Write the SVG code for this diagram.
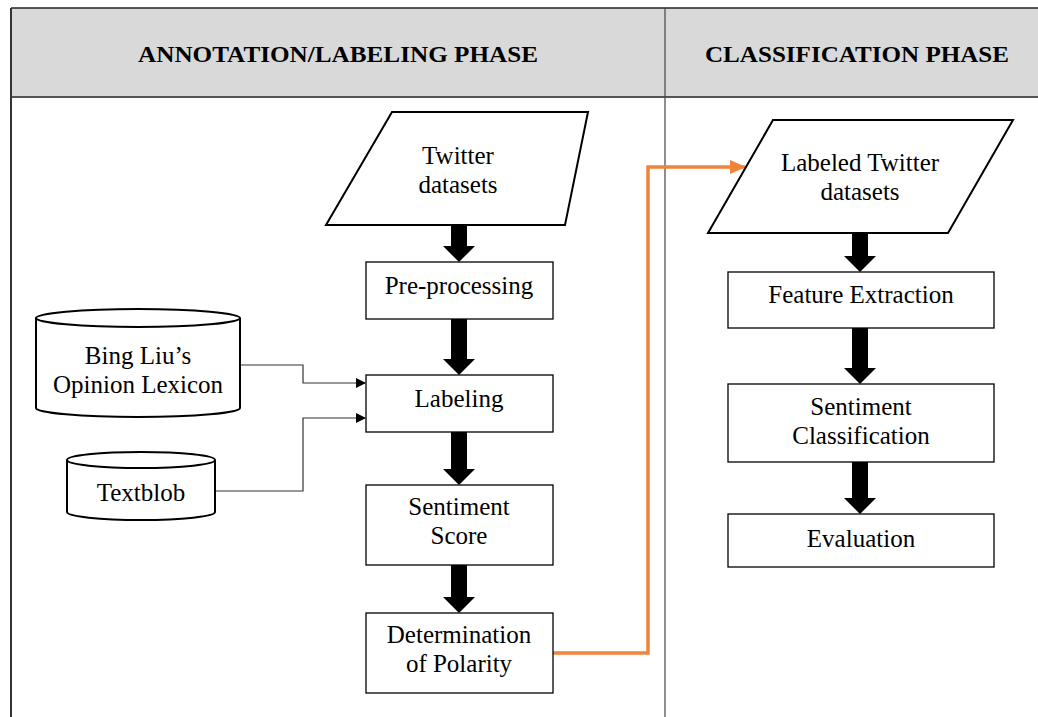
<svg xmlns="http://www.w3.org/2000/svg" width="1038" height="717" viewBox="0 0 1038 717">
<style>
.t{font-family:"Liberation Serif","Times New Roman",serif;font-size:25px;fill:#000;text-anchor:middle}
.h{font-family:"Liberation Serif","Times New Roman",serif;font-size:23px;font-weight:bold;fill:#000;text-anchor:middle}
.box{fill:#fff;stroke:#000;stroke-width:1.3}
.shape{fill:#fff;stroke:#000;stroke-width:2}
.thin{fill:none;stroke:#333;stroke-width:1.2}
.orange{fill:none;stroke:#F0843C;stroke-width:3.5}
.blk{fill:#000}
</style>
<defs>
<marker id="ah" markerWidth="10" markerHeight="10" refX="9" refY="5" orient="auto" markerUnits="userSpaceOnUse">
<path d="M0,0 L10,5 L0,10 Z" fill="#000"/>
</marker>
<marker id="ao" markerWidth="16" markerHeight="14" refX="15" refY="7" orient="auto" markerUnits="userSpaceOnUse">
<path d="M0,0 L16,7 L0,14 Z" fill="#F0843C"/>
</marker>
</defs>
<rect width="1038" height="717" fill="#fff"/>
<g id="table">
<rect x="11" y="8" width="1040" height="89" fill="#d9d9d9"/>
<line x1="11" y1="8" x2="1038" y2="8" stroke="#222" stroke-width="1.5"/>
<line x1="11" y1="97" x2="1038" y2="97" stroke="#555" stroke-width="2"/>
<line x1="11" y1="8" x2="11" y2="717" stroke="#333" stroke-width="2"/>
<line x1="665" y1="8" x2="665" y2="717" stroke="#444" stroke-width="1.2"/>
<text class="h" x="338" y="62" textLength="400" lengthAdjust="spacingAndGlyphs">ANNOTATION/LABELING PHASE</text>
<text class="h" x="857" y="62" textLength="304" lengthAdjust="spacingAndGlyphs">CLASSIFICATION PHASE</text>
</g>
<g id="connectors">
<path class="blk" d="M451,226 H467 V246 H475 L459,262 L443,246 H451 Z"/>
<path class="blk" d="M451,319 H467 V359 H475 L459,375 L443,359 H451 Z"/>
<path class="blk" d="M451,432 H467 V469 H475 L459,485 L443,469 H451 Z"/>
<path class="blk" d="M451,565 H467 V597 H475 L459,613 L443,597 H451 Z"/>
<path class="blk" d="M852,233 H868 V256 H876 L860,272 L844,256 H852 Z"/>
<path class="blk" d="M852,328 H868 V368 H876 L860,384 L844,368 H852 Z"/>
<path class="blk" d="M852,462 H868 V498 H876 L860,514 L844,498 H852 Z"/>
<path class="thin" d="M240,365 H303 V383 H365" marker-end="url(#ah)"/>
<path class="thin" d="M215,491 H303 V418 H365" marker-end="url(#ah)"/>
<path class="orange" d="M553,653 H648 V167 H745" marker-end="url(#ao)"/>
</g>
<g id="twitter-datasets">
<path class="shape" d="M392,112 L588,112 L565,225 L326,225 Z"/>
<text class="t" x="458" y="164">Twitter</text>
<text class="t" x="458" y="193">datasets</text>
</g>
<g id="pre-processing">
<rect class="box" x="366" y="262" width="187" height="57"/>
<text class="t" x="459" y="294">Pre-processing</text>
</g>
<g id="labeling">
<rect class="box" x="366" y="375" width="187" height="57"/>
<text class="t" x="459" y="407">Labeling</text>
</g>
<g id="sentiment-score">
<rect class="box" x="366" y="485" width="187" height="80"/>
<text class="t" x="459" y="515">Sentiment</text>
<text class="t" x="459" y="544">Score</text>
</g>
<g id="determination-of-polarity">
<rect class="box" x="366" y="613" width="187" height="80"/>
<text class="t" x="459" y="643">Determination</text>
<text class="t" x="459" y="672">of Polarity</text>
</g>
<g id="bing-liu">
<path class="shape" d="M36,318 A102,9 0 0 1 240,318 V408 A102,9 0 0 1 36,408 Z"/>
<path class="shape" d="M36,318 A102,9 0 0 0 240,318" fill="none"/>
<text class="t" x="138" y="364">Bing Liu’s</text>
<text class="t" x="138" y="393">Opinion Lexicon</text>
</g>
<g id="textblob">
<path class="shape" d="M67,460 A74,8 0 0 1 215,460 V512 A74,8 0 0 1 67,512 Z"/>
<path class="shape" d="M67,460 A74,8 0 0 0 215,460" fill="none"/>
<text class="t" x="141" y="501">Textblob</text>
</g>
<g id="labeled-twitter-datasets">
<path class="shape" d="M773,120 L1013,120 L948,233 L708,233 Z"/>
<text class="t" x="860" y="171">Labeled Twitter</text>
<text class="t" x="860" y="200">datasets</text>
</g>
<g id="feature-extraction">
<rect class="box" x="728" y="272" width="266" height="56"/>
<text class="t" x="861" y="303">Feature Extraction</text>
</g>
<g id="sentiment-classification">
<rect class="box" x="728" y="384" width="266" height="78"/>
<text class="t" x="861" y="415">Sentiment</text>
<text class="t" x="861" y="444">Classification</text>
</g>
<g id="evaluation">
<rect class="box" x="728" y="514" width="266" height="53"/>
<text class="t" x="861" y="547">Evaluation</text>
</g>
</svg>
